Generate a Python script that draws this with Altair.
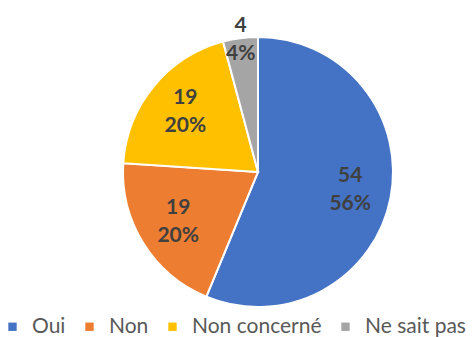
import altair as alt
import pandas as pd

categories = ["Oui", "Non", "Non concerné", "Ne sait pas"]
values = [54, 19, 19, 4]
colors = ["#4472C4", "#ED7D31", "#FFC000", "#A5A5A5"]

df = pd.DataFrame({"cat": categories, "value": values})

FONT = "Lato"
CX, CY, R = 258, 172, 135

base = alt.Chart(df).transform_window(
    idx="row_number()"
).transform_joinaggregate(
    total="sum(value)"
).transform_calculate(
    pct="round(datum.value / datum.total * 100) + '%'",
    num="'' + datum.value"
)

enc = dict(
    theta=alt.Theta("value:Q", stack=True),
    order=alt.Order("idx:Q"),
    x=alt.value(CX),
    y=alt.value(CY),
)

arc = base.mark_arc(outerRadius=R, stroke="white", strokeWidth=2).encode(
    color=alt.Color(
        "cat:N",
        scale=alt.Scale(domain=categories, range=colors),
        sort=categories,
        legend=alt.Legend(
            title=None,
            orient="none",
            direction="horizontal",
            legendX=2,
            legendY=316,
            symbolType="square",
            symbolSize=70,
            symbolStrokeWidth=0,
            labelFont=FONT,
            labelFontSize=21,
            labelColor="#595959",
            labelOffset=9,
            columnPadding=13,
        ),
    ),
    **enc,
)

is_out = "datum.cat == 'Ne sait pas'"
is_in = "datum.cat != 'Ne sait pas'"

def txt(radius, dy, field, pred):
    return base.mark_text(
        radius=radius, dy=dy, font=FONT, fontSize=21, fontWeight="bold",
        color="#404040"
    ).encode(
        text=alt.condition(pred, alt.Text(f"{field}:N"), alt.value("")),
        **enc,
    )

chart = alt.layer(
    arc,
    txt(94, -14, "num", is_in),
    txt(94, 14, "pct", is_in),
    txt(133, -14, "num", is_out),
    txt(133, 14, "pct", is_out),
).properties(
    width=475, height=337, padding=0, autosize=alt.AutoSizeParams(type="none")
).configure_view(stroke=None)

chart.save("out.html", embed_options={"renderer": "svg", "actions": False})
